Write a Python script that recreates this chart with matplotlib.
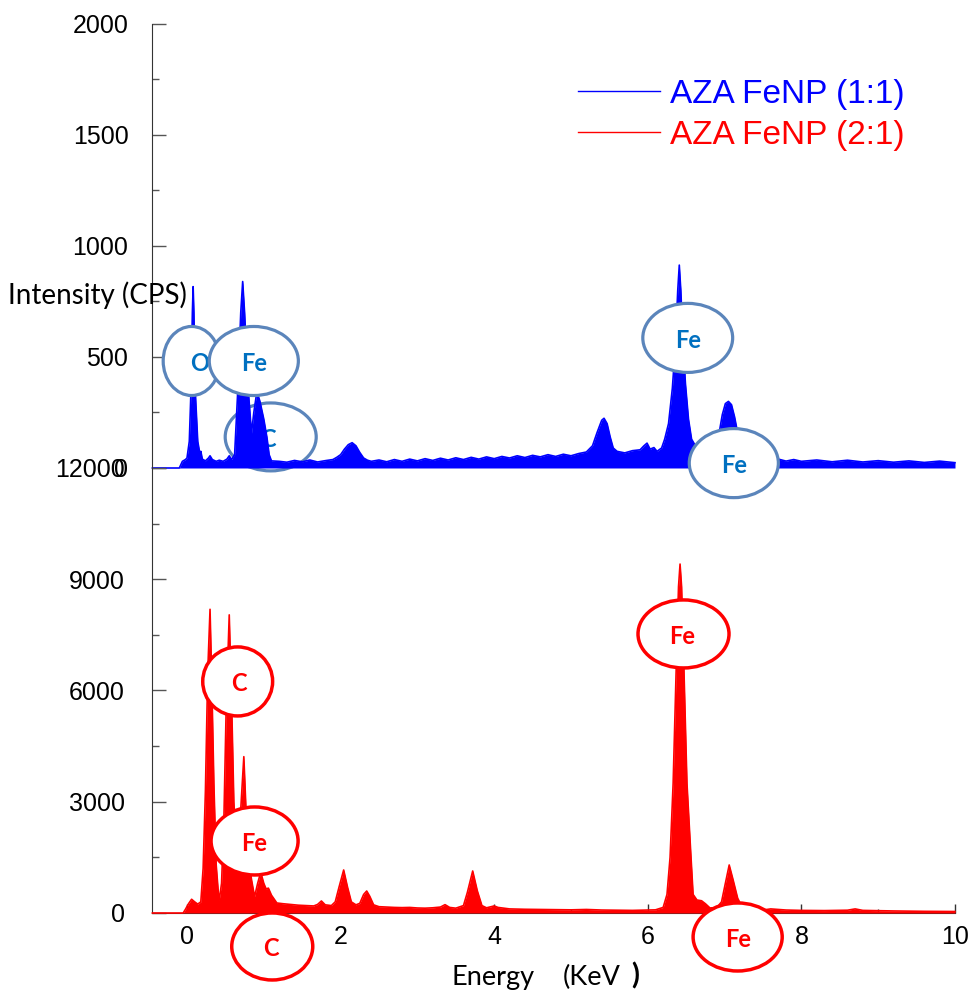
import matplotlib
matplotlib.use('Agg')
import matplotlib.pyplot as plt
from matplotlib.patches import Ellipse
from matplotlib.lines import Line2D
from matplotlib.ticker import MultipleLocator

plt.rcParams['font.family'] = ['Liberation Sans', 'DejaVu Sans']

# EDS spectrum, AZA FeNP (1:1) -- energy (keV) / intensity (CPS)
blue_kev = [-0.45, -0.10, -0.06, -0.02, 0.00, 0.03, 0.05, 0.07, 0.08, 0.09, 0.11, 0.14,
            0.17, 0.18, 0.20, 0.24, 0.28, 0.30, 0.33, 0.38, 0.42, 0.47, 0.52, 0.55, 0.58,
            0.62, 0.66, 0.70, 0.725, 0.75, 0.80, 0.84, 0.87, 0.91, 0.95, 1.00, 1.04, 1.07,
            1.10, 1.2, 1.3, 1.4, 1.5, 1.6, 1.7, 1.8, 1.9, 1.95, 2.0, 2.05, 2.1, 2.15, 2.2,
            2.25, 2.3, 2.35, 2.4, 2.5, 2.6, 2.7, 2.8, 2.9, 3.0, 3.1, 3.2, 3.3, 3.4, 3.5,
            3.6, 3.7, 3.8, 3.9, 4.0, 4.1, 4.2, 4.3, 4.4, 4.5, 4.6, 4.7, 4.8, 4.9, 5.0,
            5.1, 5.2, 5.28, 5.34, 5.40, 5.43, 5.47, 5.51, 5.55, 5.6, 5.7, 5.8, 5.9, 5.95,
            5.99, 6.03, 6.08, 6.12, 6.18, 6.22, 6.27, 6.32, 6.36, 6.39, 6.41, 6.43, 6.46,
            6.49, 6.53, 6.57, 6.62, 6.7, 6.8, 6.88, 6.93, 6.97, 7.01, 7.05, 7.09, 7.13,
            7.18, 7.23, 7.3, 7.4, 7.5, 7.6, 7.7, 7.8, 7.9, 8.0, 8.2, 8.4, 8.6, 8.8, 9.0,
            9.2, 9.4, 9.6, 9.8, 10.0]
blue_cps = [0, 0, 30, 38, 45, 120, 330, 700, 817, 700, 330, 120,
            60, 75, 40, 32, 45, 55, 38, 30, 35, 30, 40, 55, 38,
            60, 340, 700, 840, 700, 340, 157, 250, 344, 300, 220, 140, 60,
            32, 30, 26, 34, 28, 36, 27, 33, 38, 48, 60, 85, 105, 114, 100,
            70, 45, 35, 30, 36, 28, 38, 30, 40, 32, 42, 34, 44, 36, 46,
            38, 48, 40, 50, 42, 52, 45, 55, 47, 57, 50, 60, 52, 62, 55,
            65, 72, 100, 160, 215, 224, 200, 140, 90, 75, 68, 78, 82, 100,
            112, 85, 92, 75, 90, 130, 200, 360, 560, 800, 914, 800, 560,
            380, 220, 130, 100, 90, 95, 110, 160, 240, 290, 300, 285, 230,
            140, 70, 40, 35, 42, 33, 40, 31, 38, 30, 36, 28, 35, 27, 33,
            26, 32, 25, 31, 24]

# EDS spectrum, AZA FeNP (2:1)
red_kev = [-0.45, -0.05, -0.02, 0.02, 0.06, 0.10, 0.14, 0.18, 0.21, 0.24, 0.27, 0.30,
           0.32, 0.35, 0.38, 0.41, 0.42, 0.45, 0.48, 0.51, 0.55, 0.58, 0.61, 0.64, 0.67,
           0.70, 0.74, 0.77, 0.80, 0.84, 0.88, 0.92, 0.96, 1.00, 1.03, 1.06, 1.10, 1.17,
           1.25, 1.35, 1.45, 1.55, 1.65, 1.70, 1.75, 1.80, 1.88, 1.93, 1.98, 2.04, 2.09,
           2.14, 2.2, 2.25, 2.3, 2.34, 2.38, 2.43, 2.5, 2.6, 2.7, 2.8, 2.9, 3.0, 3.1,
           3.2, 3.3, 3.36, 3.42, 3.5, 3.6, 3.65, 3.72, 3.78, 3.84, 3.9, 4.0, 4.05, 4.2,
           4.4, 4.6, 4.8, 5.0, 5.2, 5.4, 5.6, 5.8, 6.0, 6.1, 6.2, 6.25, 6.29, 6.33, 6.37,
           6.40, 6.42, 6.44, 6.47, 6.51, 6.56, 6.59, 6.64, 6.70, 6.75, 6.81, 6.9, 6.96,
           7.01, 7.06, 7.11, 7.17, 7.23, 7.3, 7.5, 7.6, 7.8, 8.0, 8.3, 8.6, 8.7, 8.8,
           9.2, 9.6, 10.0]
red_cps = [0, 0, 100, 250, 370, 300, 240, 300, 1200, 3300, 6500, 8190,
           6500, 3500, 1300, 500, 350, 800, 2500, 5500, 8040, 5800, 3000, 1800, 1600,
           2800, 4216, 2700, 1500, 900, 440, 800, 1100, 800, 650, 670, 480, 270,
           250, 230, 210, 200, 190, 230, 324, 220, 200, 300, 700, 1160, 700,
           300, 220, 260, 500, 593, 450, 220, 170, 160, 150, 145, 150, 135, 130,
           140, 160, 225, 150, 130, 200, 550, 1133, 600, 200, 140, 190, 150, 110,
           100, 95, 90, 85, 95, 80, 75, 70, 80, 85, 150, 500, 1500, 3500, 6600,
           8800, 9410, 8800, 6600, 3500, 1600, 500, 350, 330, 250, 135, 150, 300,
           800, 1295, 900, 400, 150, 90, 80, 110, 80, 70, 65, 75, 110, 70,
           55, 45, 40]

series_labels = ['AZA FeNP (1:1)', 'AZA FeNP (2:1)']
top_yticks = [0, 500, 1000, 1500, 2000]
bot_yticks = [0, 3000, 6000, 9000, 12000]
xticks = [0, 2, 4, 6, 8, 10]

# element markers: label, centre (keV, CPS), width (keV), height (CPS), text x, zorder
top_marks = [('O', 0.06, 482, 0.74, 311, 0.17, 3),
             ('Fe', 0.87, 482, 1.16, 311, 0.87, 3),
             ('C', 1.09, 140, 1.185, 306, 1.06, 1),
             ('Fe', 6.52, 586, 1.17, 311, 6.52, 3),
             ('Fe', 7.12, 22, 1.16, 311, 7.12, 3)]
bot_marks = [('C', 0.66, 6244, 0.91, 1861, 0.68),
             ('Fe', 0.88, 1942, 1.133, 1834, 0.87),
             ('C', 1.11, -903, 1.055, 1807, 1.09),
             ('Fe', 6.465, 7525, 1.185, 1834, 6.45),
             ('Fe', 7.17, -647, 1.16, 1834, 7.17)]

BLUE = '#0000ff'
RED = '#ff0000'
AXC = '#333333'

fig = plt.figure(figsize=(9.69, 9.92), dpi=100)
ax_top = fig.add_axes([0.15686, 0.52823, 0.82869, 0.44758])
ax_bot = fig.add_axes([0.15686, 0.07964, 0.82869, 0.44859])

for ax, pad in ((ax_top, 17), (ax_bot, 19.5)):
    ax.set_xlim(-0.4557, 10)
    ax.patch.set_visible(False)
    for s in ('top', 'right'):
        ax.spines[s].set_visible(False)
    ax.spines['left'].set_color(AXC)
    ax.spines['bottom'].set_color(AXC)
    ax.tick_params(axis='y', which='major', direction='in', length=10, width=1,
                   color='#555555', pad=pad, labelsize=18)
    ax.tick_params(axis='y', which='minor', direction='in', length=5, width=1,
                   color='#555555')

ax_top.spines['bottom'].set_visible(False)
ax_top.tick_params(axis='x', which='both', bottom=False, labelbottom=False)
ax_top.set_ylim(0, 2000)
ax_top.set_yticks(top_yticks)
ax_top.yaxis.set_minor_locator(MultipleLocator(250))

ax_bot.set_ylim(0, 12000)
ax_bot.set_yticks(bot_yticks)
ax_bot.yaxis.set_minor_locator(MultipleLocator(1500))
ax_bot.set_xticks(xticks)
ax_bot.xaxis.set_minor_locator(MultipleLocator(1))
ax_bot.tick_params(axis='x', which='major', direction='in', length=6.5, width=1,
                   color=AXC, pad=9, labelsize=18)
ax_bot.tick_params(axis='x', which='minor', direction='in', length=3, width=1, color=AXC)

ax_top.fill_between(blue_kev, blue_cps, color=BLUE, lw=0, zorder=2)
ax_top.plot(blue_kev, blue_cps, color=BLUE, lw=1.2, zorder=2, clip_on=False)
ax_bot.fill_between(red_kev, red_cps, color=RED, lw=0, zorder=3)
ax_bot.plot(red_kev, red_cps, color=RED, lw=1.2, zorder=3, clip_on=False)

for lab, x, y, w, h, tx, z in top_marks:
    ax_top.add_patch(Ellipse((x, y), w, h, facecolor='white', edgecolor='#5b85bb',
                             lw=2.3, zorder=z, clip_on=False))
    ax_top.text(tx, y - 10, lab, ha='center', va='center', color='#0070c0',
                fontsize=17, fontweight='bold', family='Lato', zorder=z, clip_on=False)

for lab, x, y, w, h, tx in bot_marks:
    ax_bot.add_patch(Ellipse((x, y), w, h, facecolor='white', edgecolor=RED,
                             lw=2.5, zorder=4, clip_on=False))
    ax_bot.text(tx, y - 60, lab, ha='center', va='center', color=RED,
                fontsize=17, fontweight='bold', family='Lato', zorder=4, clip_on=False)

handles = [Line2D([], [], color=BLUE, lw=1), Line2D([], [], color=RED, lw=1)]
fig.legend(handles, series_labels, loc='upper left', bbox_to_anchor=(0.5965, 0.9205),
           frameon=False, fontsize=24, handlelength=2.45, handletextpad=0.3,
           labelspacing=0.3, borderpad=0, borderaxespad=0, labelcolor=[BLUE, RED])

fig.text(0.008, 0.7026, 'Intensity (CPS)', ha='left', va='center', fontsize=20,
         family='Lato', zorder=5)
fig.text(452 / 969, 0.0075, 'Energy', ha='left', va='baseline', fontsize=19.5,
         family='Lato')
fig.text(563 / 969, 0.0075, '(KeV', ha='left', va='baseline', fontsize=19.5,
         family='Lato')
fig.text(631 / 969, 0.0075, ')', ha='left', va='baseline', fontsize=21,
         family='Lato', fontweight='bold')

fig.savefig('out.png', dpi=100)
